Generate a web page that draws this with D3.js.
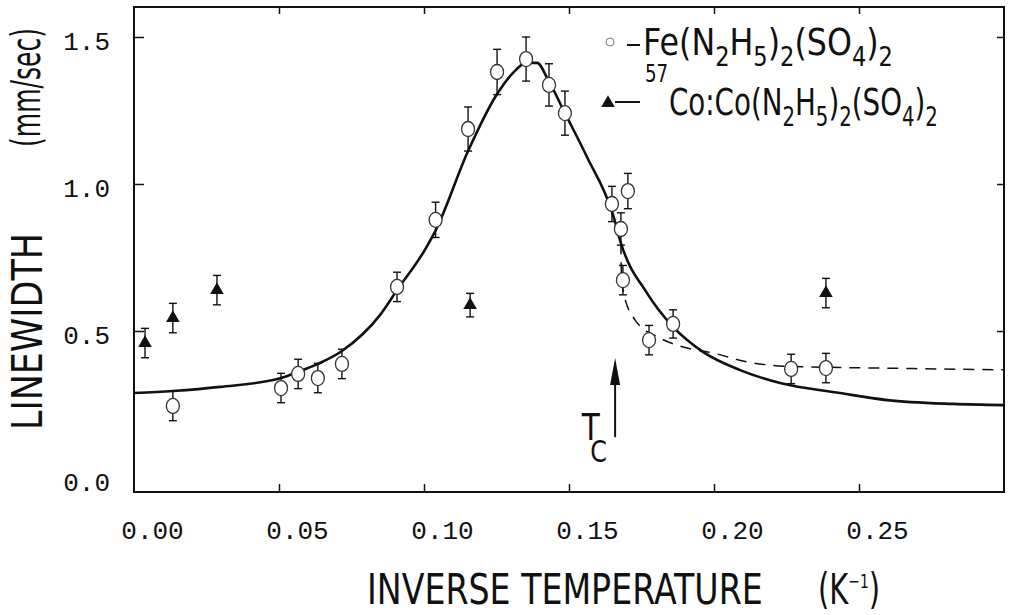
<!DOCTYPE html>
<html><head><meta charset="utf-8">
<script src="https://cdn.jsdelivr.net/npm/d3@7"></script>
<style>body{margin:0;background:#fff}svg{display:block}</style>
</head><body>
<script>
// ---- data ----
const xTicks = [0, 0.05, 0.10, 0.15, 0.20, 0.25];
const yTicks = [0, 0.5, 1.0, 1.5];

// Fe(N2H5)2(SO4)2 (open circles)
const feX   = [0.0134,0.0507,0.0566,0.0634,0.0717,0.0907,0.1040,0.1152,0.1252,0.1352,0.1431,0.1486,0.1648,0.1679,0.1703,0.1686,0.1776,0.1859,0.2266,0.2386];
const feY   = [0.245,0.306,0.354,0.340,0.388,0.650,0.878,1.187,1.381,1.425,1.337,1.241,0.932,0.847,0.976,0.673,0.469,0.524,0.371,0.374];
const feErr = [0.05,0.05,0.05,0.05,0.05,0.05,0.06,0.075,0.077,0.075,0.072,0.075,0.06,0.055,0.06,0.05,0.05,0.048,0.05,0.05];

// 57Co:Co(N2H5)2(SO4)2 (filled triangles)
const coX   = [0.0038,0.0134,0.0286,0.1159,0.2386];
const coY   = [0.459,0.544,0.639,0.588,0.629];
const coErr = [0.05,0.05,0.05,0.04,0.05];

// solid fitted curve
const fitX = [0,0.0134,0.0297,0.0507,0.0566,0.0634,0.0717,0.0848,0.0907,0.1003,0.1041,0.1152,0.1252,0.1307,0.1352,0.1390,0.1428,0.1486,0.1562,0.1652,0.1679,0.1769,0.1859,0.1962,0.2090,0.2228,0.2434,0.2597,0.2824,0.30];
const fitY = [0.289,0.296,0.310,0.340,0.361,0.388,0.432,0.554,0.639,0.776,0.844,1.112,1.306,1.378,1.412,1.412,1.354,1.241,1.092,0.895,0.799,0.629,0.514,0.429,0.367,0.323,0.289,0.265,0.252,0.248];

// dashed curve (below Tc)
const dashX = [0.1679,0.1680,0.1686,0.1728,0.1814,0.1907,0.1997,0.2114,0.2252,0.2434,0.27,0.30];
const dashY = [0.799,0.718,0.639,0.537,0.476,0.442,0.425,0.395,0.380,0.376,0.372,0.368];

// Tc arrow
const tcX = 0.1659;
const tcArrow = [0.139, 0.408];

// ---- drawing ----
const W = 1009, H = 615;
const svg = d3.select("body").append("svg").attr("width", W).attr("height", H);
svg.append("rect").attr("width", W).attr("height", H).attr("fill", "#fff");

const x = d3.scaleLinear().domain([0, 0.30]).range([134, 1004]);
const y = d3.scaleLinear().domain([-0.0476, 1.602]).range([492, 7]);

const ink = "#111";
const monoFont = "'Liberation Mono', 'DejaVu Sans Mono', monospace";
const sansFont = "'DejaVu Sans', 'Noto Sans', sans-serif";

// frame
svg.append("rect").attr("x", x(0)).attr("y", y.range()[1])
  .attr("width", x(0.30) - x(0)).attr("height", y.range()[0] - y.range()[1])
  .attr("fill", "none").attr("stroke", ink).attr("stroke-width", 2);

// bottom axis
const gx = svg.append("g").attr("transform", `translate(0,${y.range()[0]})`)
  .call(d3.axisBottom(x).tickValues(xTicks).tickSizeInner(-8).tickSizeOuter(0).tickFormat(d3.format(".2f")));
gx.select(".domain").remove();
gx.selectAll(".tick line").attr("stroke", ink).attr("stroke-width", 1.5).filter(d => d === 0).remove();
gx.selectAll(".tick text").attr("x", 18).attr("y", 47).attr("dy", null)
  .attr("font-family", monoFont).attr("font-size", 26).attr("fill", ink);

// top axis ticks
const gxt = svg.append("g").attr("transform", `translate(0,${y.range()[1]})`)
  .call(d3.axisTop(x).tickValues(xTicks.filter(d => d > 0)).tickSizeInner(-7).tickSizeOuter(0).tickFormat(""));
gxt.select(".domain").remove();
gxt.selectAll(".tick line").attr("stroke", ink).attr("stroke-width", 1.5);

// left axis
const gy = svg.append("g").attr("transform", `translate(${x(0)},0)`)
  .call(d3.axisLeft(y).tickValues(yTicks).tickSizeInner(-10).tickSizeOuter(0).tickFormat(d3.format(".1f")));
gy.select(".domain").remove();
gy.selectAll(".tick line").attr("stroke", ink).attr("stroke-width", 1.5).filter(d => d === 0).remove();
gy.selectAll(".tick text").attr("x", -24).attr("y", 3).attr("dy", "0.35em")
  .attr("font-family", monoFont).attr("font-size", 26).attr("fill", ink);

// right axis ticks
const gyr = svg.append("g").attr("transform", `translate(${x(0.30)},0)`)
  .call(d3.axisRight(y).tickValues(yTicks.filter(d => d > 0)).tickSizeInner(-7).tickSizeOuter(0).tickFormat(""));
gyr.select(".domain").remove();
gyr.selectAll(".tick line").attr("stroke", ink).attr("stroke-width", 1.5);

// curves
const fitPts = fitX.map((v, i) => [v, fitY[i]]);
const dashPts = dashX.map((v, i) => [v, dashY[i]]);
const line = d3.line().x(d => x(d[0])).y(d => y(d[1])).curve(d3.curveMonotoneX);
svg.append("path").attr("d", line(dashPts)).attr("fill", "none").attr("stroke", ink)
  .attr("stroke-width", 1.5).attr("stroke-dasharray", "11,8");
svg.append("path").attr("d", line(fitPts)).attr("fill", "none").attr("stroke", ink)
  .attr("stroke-width", 2.6).attr("stroke-linejoin", "round");

// error bars
function errorBars(xs, ys, es) {
  const g = svg.append("g").attr("stroke", ink).attr("stroke-width", 1.4).attr("fill", "none");
  xs.forEach((v, i) => {
    const cx = x(v), top = y(ys[i] + es[i]), bot = y(ys[i] - es[i]);
    g.append("line").attr("x1", cx).attr("x2", cx).attr("y1", top).attr("y2", bot);
    g.append("line").attr("x1", cx - 4).attr("x2", cx + 4).attr("y1", top).attr("y2", top);
    g.append("line").attr("x1", cx - 4).attr("x2", cx + 4).attr("y1", bot).attr("y2", bot);
  });
}
errorBars(feX, feY, feErr);
errorBars(coX, coY, coErr);

// open circles
svg.append("g").selectAll("ellipse").data(feX).join("ellipse")
  .attr("cx", d => x(d)).attr("cy", (d, i) => y(feY[i]))
  .attr("rx", 6.5).attr("ry", 7.5)
  .attr("fill", "#fff").attr("stroke", "#333").attr("stroke-width", 1.3);

// filled triangles
const tri = d3.symbol().type(d3.symbolTriangle).size(80);
svg.append("g").selectAll("path").data(coX).join("path")
  .attr("d", tri).attr("transform", (d, i) => `translate(${x(d)},${y(coY[i])})`)
  .attr("fill", ink);

// fitted-text helper
function fitText(build, tx, ty, width, rotate) {
  const g = svg.append("g");
  const t = g.append("text").attr("font-family", sansFont).attr("fill", ink);
  build(t);
  const bb = t.node().getBBox();
  const k = width / bb.width;
  t.attr("x", -bb.x);
  g.attr("transform", `translate(${tx},${ty})` + (rotate ? " rotate(-90)" : "") + ` scale(${k},1)`);
  return g;
}
// parts: [text, shift(px, + = down), fontSize, dx]
function rich(t, parts) {
  let cur = 0;
  parts.forEach(p => {
    const ts = t.append("tspan").attr("dy", p[1] - cur).attr("font-size", p[2]).text(p[0]);
    if (p[3]) ts.attr("dx", p[3]);
    cur = p[1];
  });
}
const chem = (S, s, sh) => [["Co:Co(N",0,S],["2",sh,s],["H",0,S],["5",sh,s],[")",0,S],["2",sh,s],["(SO",0,S],["4",sh,s],[")",0,S],["2",sh,s]];

// axis titles
fitText(t => t.attr("font-size", 42).text("LINEWIDTH"), 42, 430, 197, true);
fitText(t => t.attr("font-size", 40).text("(mm/sec)"), 40, 147, 119, true);
fitText(t => t.attr("font-size", 42).text("INVERSE TEMPERATURE"), 367, 604, 396, false);
fitText(t => rich(t, [["(K",0,42],["−1",-16,20],[")",0,42]]), 818, 604, 62, false);

// legend
svg.append("circle").attr("cx", 610).attr("cy", 42).attr("r", 4)
  .attr("fill", "none").attr("stroke", "#777").attr("stroke-width", 1);
svg.append("line").attr("x1", 627).attr("x2", 640).attr("y1", 45).attr("y2", 45)
  .attr("stroke", ink).attr("stroke-width", 2);
fitText(t => rich(t, [["Fe(N",0,38],["2",11,27],["H",0,38],["5",11,27],[")",0,38],["2",11,27],["(SO",0,38],["4",11,27],[")",0,38],["2",11,27]]), 643, 55, 250, false);

svg.append("path").attr("d", tri).attr("transform", "translate(608,103)").attr("fill", ink);
svg.append("line").attr("x1", 615).attr("x2", 640).attr("y1", 102).attr("y2", 102)
  .attr("stroke", ink).attr("stroke-width", 2);
fitText(t => rich(t, [["57",-33,25]].concat(chem(38, 27, 11).map((p, i) => i === 0 ? [p[0], 0, p[2], 1] : p))), 645, 115, 293, false);

// Tc arrow
const ax = x(tcX), aTip = y(tcArrow[1]), aTail = y(tcArrow[0]);
svg.append("line").attr("x1", ax).attr("x2", ax).attr("y1", aTip + 20).attr("y2", aTail)
  .attr("stroke", ink).attr("stroke-width", 2);
svg.append("path").attr("d", `M${ax},${aTip} L${ax - 5},${aTip + 27} L${ax + 5},${aTip + 27} Z`).attr("fill", ink);
fitText(t => rich(t, [["T",0,37],["C",22,30,-12]]), 581, 440, 26, false);
</script>
</body></html>
